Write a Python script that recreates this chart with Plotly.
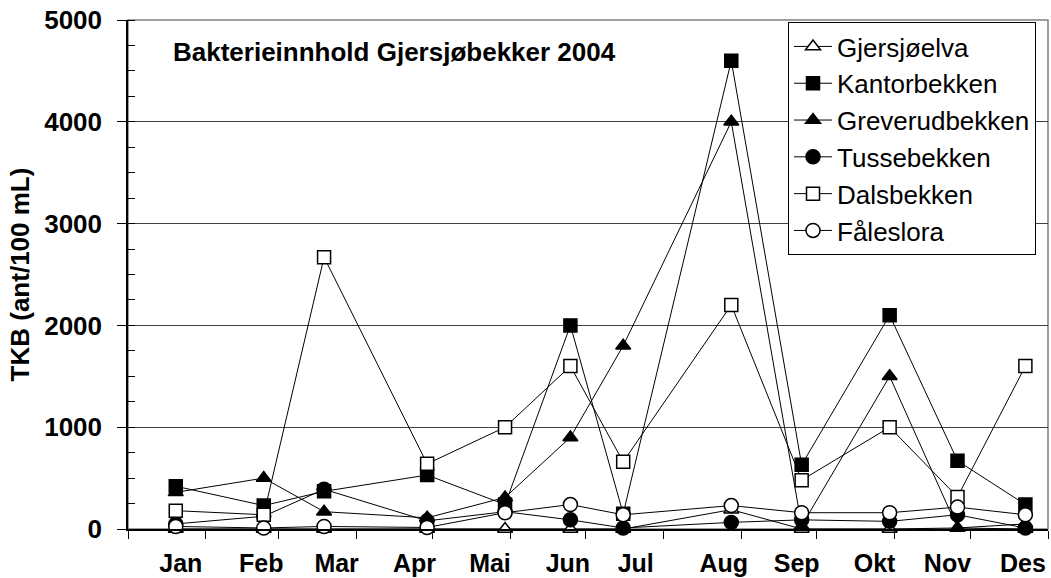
import plotly.graph_objects as go

# sample dates 2004 (one sample per month)
sample_dates = ["2004-01-20", "2004-02-24", "2004-03-19", "2004-04-29",
                "2004-05-30", "2004-06-25", "2004-07-16", "2004-08-28",
                "2004-09-25", "2004-10-30", "2004-11-26", "2004-12-23"]

# month labels and where they sit on the date axis
month_labels = ["Jan", "Feb", "Mar", "Apr", "Mai", "Jun",
                "Jul", "Aug", "Sep", "Okt", "Nov", "Des"]
month_label_dates = ["2004-01-22", "2004-02-23", "2004-03-24", "2004-04-24",
                     "2004-05-24", "2004-06-24", "2004-07-21", "2004-08-25",
                     "2004-09-23", "2004-10-24", "2004-11-22", "2004-12-22"]

# TKB (ant/100 mL)
gjersjoelva = [0, 0, 0, 0, 0, 0, 0, 190, 0, 0, 10, 0]
kantorbekken = [420, 230, 370, 530, 240, 2000, 150, 4600, 630, 2100, 670, 240]
greverudbekken = [360, 500, 170, 110, 310, 900, 1800, 4000, 30, 1500, 10, 50]
tussebekken = [50, 125, 390, 80, 170, 90, 10, 65, 90, 75, 140, 10]
dalsbekken = [180, 140, 2670, 640, 1000, 1600, 660, 2200, 480, 1000, 315, 1600]
faleslora = [25, 10, 25, 15, 160, 240, 140, 230, 160, 160, 215, 140]

SERIES = [
    ("Gjersjøelva", gjersjoelva, "triangle-up", "white"),
    ("Kantorbekken", kantorbekken, "square", "black"),
    ("Greverudbekken", greverudbekken, "triangle-up", "black"),
    ("Tussebekken", tussebekken, "circle", "black"),
    ("Dalsbekken", dalsbekken, "square", "white"),
    ("Fåleslora", faleslora, "circle", "white"),
]

FONT = "Liberation Sans, Arial, sans-serif"

fig = go.Figure()
for name, values, symbol, fill in SERIES:
    fig.add_trace(go.Scatter(
        x=sample_dates, y=values, name=name,
        mode="lines+markers",
        line=dict(color="black", width=1),
        marker=dict(symbol=symbol, size=14 if "circle" in symbol else 13,
                    color=fill, line=dict(color="black", width=1.5)),
        cliponaxis=False,
    ))

fig.add_annotation(
    text="<b>Bakterieinnhold Gjersjøbekker 2004</b>",
    xref="paper", yref="paper", x=0.047, y=0.937,
    xanchor="left", yanchor="middle", showarrow=False,
    font=dict(family=FONT, size=26, color="black"),
)

# grey frame round the plot area
fig.add_shape(type="rect", xref="paper", yref="paper", x0=0, y0=0, x1=1, y1=1,
              line=dict(color="#808080", width=1.5), layer="below")

fig.update_layout(
    width=1051, height=578,
    margin=dict(l=128, r=3, t=20, b=49),
    paper_bgcolor="white", plot_bgcolor="white",
    font=dict(family=FONT, size=26, color="black"),
    legend=dict(
        x=0.7174, y=0.996, xanchor="left", yanchor="top",
        bgcolor="white", bordercolor="black", borderwidth=1,
        itemwidth=38,
        font=dict(family=FONT, size=26, color="black"),
    ),
    xaxis=dict(
        type="date", range=["2004-01-01", "2005-01-01"], automargin=False,
        tickmode="array", tickvals=month_label_dates, ticktext=month_labels,
        ticks="", showgrid=False, zeroline=False, ticklabelstandoff=11,
        ticklabeloverflow="allow",
        showline=True, linecolor="black", linewidth=1.5,
        tickfont=dict(family=FONT, size=25, color="black", weight="bold"),
        minor=dict(ticks="outside", ticklen=8, tickcolor="black", tickwidth=1,
                   tickmode="linear", tick0="2004-01-01", dtick="M1", showgrid=False),
    ),
    yaxis=dict(
        range=[0, 5000], dtick=1000, automargin=False,
        ticks="outside", ticklen=9, tickcolor="black", tickwidth=1,
        ticklabelstandoff=10, ticklabeloverflow="allow",
        showgrid=True, gridcolor="#404040", gridwidth=1, zeroline=False,
        showline=True, linecolor="black", linewidth=1.5,
        tickfont=dict(family=FONT, size=26, color="black", weight="bold"),
        title=dict(text="<b>TKB (ant/100 mL)</b>", standoff=7,
                   font=dict(family=FONT, size=26, color="black")),
        minor=dict(ticks="inside", ticklen=7, tickcolor="black", dtick=250,
                   showgrid=False),
    ),
)

# drop the default 8px body margin so the figure fills the window exactly
fig.write_html("out.html", config={"displayModeBar": False},
               post_script="document.body.style.margin = '0';")
